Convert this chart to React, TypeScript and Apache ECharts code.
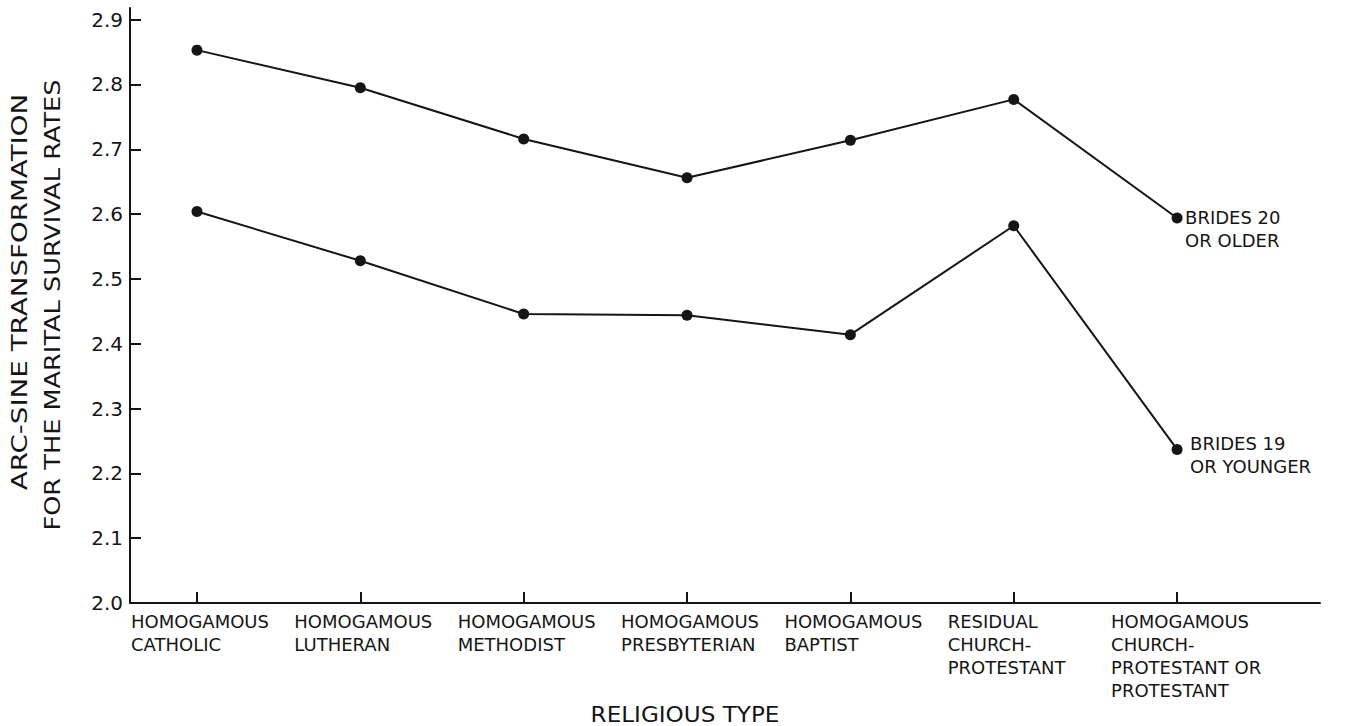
import React, { useEffect, useRef } from "react";
import * as echarts from "echarts";

const categories = [
  "HOMOGAMOUS\nCATHOLIC",
  "HOMOGAMOUS\nLUTHERAN",
  "HOMOGAMOUS\nMETHODIST",
  "HOMOGAMOUS\nPRESBYTERIAN",
  "HOMOGAMOUS\nBAPTIST",
  "RESIDUAL\nCHURCH-\nPROTESTANT",
  "HOMOGAMOUS\nCHURCH-\nPROTESTANT OR\nPROTESTANT",
];
const bridesOlder = [2.853, 2.795, 2.716, 2.656, 2.714, 2.777, 2.594];
const bridesYounger = [2.604, 2.528, 2.446, 2.444, 2.414, 2.582, 2.237];
const yTicks = [2.0, 2.1, 2.2, 2.3, 2.4, 2.5, 2.6, 2.7, 2.8, 2.9];
const seriesLabels = ["BRIDES 20\nOR OLDER", "BRIDES 19\nOR YOUNGER"];
const yTitle = ["ARC-SINE TRANSFORMATION", "FOR THE MARITAL SURVIVAL RATES"];
const xTitle = "RELIGIOUS TYPE";

const INK = "#151515";
const FONT = "DejaVu Sans";
const LABEL_SHIFT = 0.404;

export default function App() {
  const ref = useRef<HTMLDivElement>(null);
  useEffect(() => {
    if (!ref.current) return;
    const chart = echarts.init(ref.current, undefined, { renderer: "svg" });
    const idx = categories.map((_, i) => i);
    const mk = (vals: number[]) => vals.map((v, i) => [i, v]);
    const lineSeries = (name: string, vals: number[], label: string, dist: number, dy: number) => ({
      type: "line",
      name,
      data: mk(vals),
      symbol: "circle",
      symbolSize: 11,
      lineStyle: { color: INK, width: 2 },
      itemStyle: { color: INK },
      endLabel: {
        show: true,
        formatter: () => label,
        color: INK,
        fontFamily: FONT,
        fontSize: 18,
        lineHeight: 23,
        distance: dist,
        offset: [0, dy],
        align: "left",
      },
    });
    chart.setOption({
      animation: false,
      backgroundColor: "#ffffff",
      grid: { left: 130, right: 32, top: 8, bottom: 123 },
      xAxis: {
        type: "value",
        min: -0.41,
        max: 6.875,
        splitLine: { show: false },
        axisLine: { show: true, onZero: false, lineStyle: { color: INK, width: 2 } },
        axisTick: {
          show: true,
          inside: true,
          length: 11,
          customValues: idx,
          lineStyle: { color: INK, width: 2 },
        },
        axisLabel: {
          customValues: idx.map((i) => i - LABEL_SHIFT),
          formatter: (v: number) => categories[Math.round(v + LABEL_SHIFT)] ?? "",
          align: "left",
          verticalAlign: "top",
          color: INK,
          fontFamily: FONT,
          fontSize: 18,
          lineHeight: 23,
          margin: 7,
        },
      },
      yAxis: {
        type: "value",
        min: 2.0,
        max: 2.918,
        splitLine: { show: false },
        axisLine: { show: true, onZero: false, lineStyle: { color: INK, width: 2 } },
        axisTick: {
          show: true,
          inside: true,
          length: 11,
          customValues: yTicks,
          lineStyle: { color: INK, width: 2 },
        },
        axisLabel: {
          customValues: yTicks,
          formatter: (v: number) => v.toFixed(1),
          color: INK,
          fontFamily: FONT,
          fontSize: 20,
          margin: 7,
        },
      },
      graphic: [
        {
          type: "text",
          x: 20,
          y: 292,
          rotation: Math.PI / 2,
          scaleX: 1.32,
          style: {
            text: yTitle[0],
            fill: INK,
            font: `21px '${FONT}'`,
            textAlign: "center",
            textVerticalAlign: "middle",
          },
        },
        {
          type: "text",
          x: 53,
          y: 305,
          rotation: Math.PI / 2,
          scaleX: 1.22,
          style: {
            text: yTitle[1],
            fill: INK,
            font: `21px '${FONT}'`,
            textAlign: "center",
            textVerticalAlign: "middle",
          },
        },
        {
          type: "text",
          x: 685,
          y: 715,
          scaleX: 1.1,
          style: {
            text: xTitle,
            fill: INK,
            font: `21px '${FONT}'`,
            textAlign: "center",
            textVerticalAlign: "middle",
          },
        },
      ],
      series: [
        lineSeries("older", bridesOlder, seriesLabels[0], 8, 11),
        lineSeries("younger", bridesYounger, seriesLabels[1], 13, 6),
      ],
    });
    return () => chart.dispose();
  }, []);
  return <div ref={ref} style={{ width: 1352, height: 726, position: "absolute", left: 0, top: 0 }} />;
}
